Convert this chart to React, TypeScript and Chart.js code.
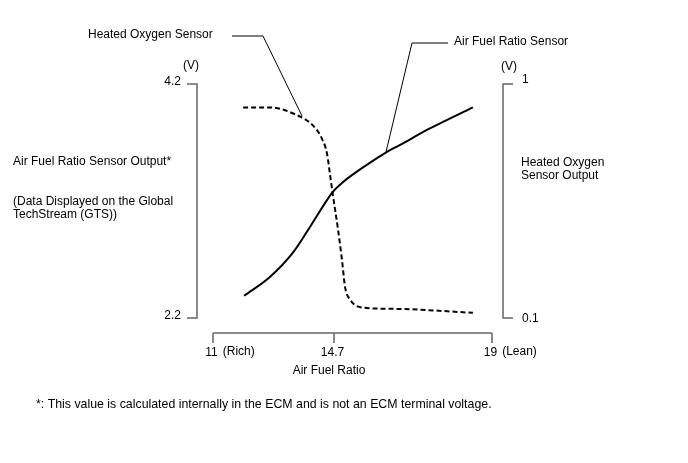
import React, { useEffect, useRef } from "react";
import { Chart, registerables, LinearScale } from "chart.js";

// Air fuel ratio (x) values of the air fuel ratio sensor curve
const afrSensorX = [11.95, 12.74, 13.45, 13.97, 14.49, 14.67, 14.94, 15.41, 16.09, 16.5, 17.31, 18.48];
// Air fuel ratio sensor output (V, left axis)
const afrSensorV = [2.39, 2.55, 2.76, 2.98, 3.21, 3.28, 3.36, 3.47, 3.61, 3.68, 3.82, 4.0];

// Air fuel ratio (x) values of the heated oxygen sensor curve
const ho2sX = [11.92, 12.74, 13.57, 14.06, 14.33, 14.49, 14.58, 14.67, 14.81, 14.92, 15.0, 15.14, 15.49, 16.41, 18.48];
// Heated oxygen sensor output (V, right axis)
const ho2sV = [0.91, 0.91, 0.88, 0.84, 0.79, 0.73, 0.65, 0.57, 0.44, 0.32, 0.22, 0.17, 0.14, 0.135, 0.12];

const xTicks = [11, 14.7, 19];
const xTickLabels = ["11", "14.7", "19"];
const xTickNotes = ["(Rich)", "", "(Lean)"];
const leftTicks = [2.2, 4.2];
const leftTickLabels = ["2.2", "4.2"];
const rightTicks = [0.1, 1];
const rightTickLabels = ["0.1", "1"];

// Schematic air-fuel-ratio axis: the stoichiometric tick sits a bit left of
// the linear midpoint, so the scale is piecewise linear between its ticks.
class AfrScale extends LinearScale {
  static id = "afrScale";
  getPixelForValue(value: any) {
    if (value === null || value === undefined || isNaN(value)) return NaN;
    const split = 0.4337;
    let f: number;
    if (value <= 14.7) f = ((value - 11) / 3.7) * split;
    else f = split + ((value - 14.7) / 4.3) * (1 - split);
    return (this as any).getPixelForDecimal(f);
  }
}

Chart.register(...registerables, AfrScale as any);

const FONT = "12px 'Liberation Sans', Arial, sans-serif";
const NOTE_FONT = "12.35px 'Liberation Sans', Arial, sans-serif";

const decorPlugin = {
  id: "decor",
  afterDraw(chart: any) {
    const { ctx, chartArea } = chart;
    const x = chart.scales.x;
    const y = chart.scales.y;
    const y2 = chart.scales.y2;
    ctx.save();

    // axis brackets
    ctx.strokeStyle = "#666";
    ctx.lineWidth = 1.5;
    const lx = chartArea.left - 16;
    const lTop = y.getPixelForValue(leftTicks[1]);
    const lBot = y.getPixelForValue(leftTicks[0]);
    ctx.beginPath();
    ctx.moveTo(lx - 10, lTop);
    ctx.lineTo(lx, lTop);
    ctx.lineTo(lx, lBot);
    ctx.lineTo(lx - 10, lBot);
    ctx.stroke();

    const rx = chartArea.right + 11;
    const rTop = y2.getPixelForValue(rightTicks[1]);
    const rBot = y2.getPixelForValue(rightTicks[0]);
    ctx.beginPath();
    ctx.moveTo(rx + 10, rTop);
    ctx.lineTo(rx, rTop);
    ctx.lineTo(rx, rBot);
    ctx.lineTo(rx + 10, rBot);
    ctx.stroke();

    const ax = chartArea.bottom + 15;
    const x0 = x.getPixelForValue(xTicks[0]);
    const x1 = x.getPixelForValue(xTicks[xTicks.length - 1]);
    ctx.beginPath();
    ctx.moveTo(x0, ax);
    ctx.lineTo(x1, ax);
    xTicks.forEach((t) => {
      const px = x.getPixelForValue(t);
      ctx.moveTo(px, ax);
      ctx.lineTo(px, ax + 10);
    });
    ctx.stroke();

    // leader lines
    ctx.strokeStyle = "#000";
    ctx.lineWidth = 1;
    ctx.beginPath();
    ctx.moveTo(232, 36);
    ctx.lineTo(263, 36);
    ctx.lineTo(302, 116);
    ctx.stroke();
    ctx.beginPath();
    ctx.moveTo(448, 43);
    ctx.lineTo(412, 43);
    ctx.lineTo(386, 152);
    ctx.stroke();

    // texts
    ctx.fillStyle = "#000";
    ctx.font = FONT;
    ctx.textBaseline = "alphabetic";
    ctx.textAlign = "left";
    ctx.fillText("Heated Oxygen Sensor", 88, 38);
    ctx.fillText("Air Fuel Ratio Sensor", 454, 45);
    ctx.fillText("(V)", 183, 69);
    ctx.fillText("(V)", 501, 70);
    ctx.fillText("Air Fuel Ratio Sensor Output*", 13, 165);
    ctx.fillText("(Data Displayed on the Global", 13, 205);
    ctx.fillText("TechStream (GTS))", 13, 218);
    ctx.fillText("Heated Oxygen", 521, 166);
    ctx.fillText("Sensor Output", 521, 179);
    ctx.font = NOTE_FONT;
    ctx.fillText("*: This value is calculated internally in the ECM and is not an ECM terminal voltage.", 36, 408);
    ctx.font = FONT;

    // left tick labels
    ctx.textAlign = "right";
    leftTicks.forEach((t, i) => {
      ctx.fillText(leftTickLabels[i], lx - 16, y.getPixelForValue(t) + 1);
    });
    // right tick labels
    ctx.textAlign = "left";
    rightTicks.forEach((t, i) => {
      ctx.fillText(rightTickLabels[i], rx + 19, y2.getPixelForValue(t) + (i === 0 ? 4 : -1));
    });
    // x tick labels
    xTicks.forEach((t, i) => {
      const px = x.getPixelForValue(t) - 1.5;
      ctx.textAlign = "center";
      ctx.fillText(xTickLabels[i], px, ax + 23);
      if (xTickNotes[i]) {
        const w = ctx.measureText(xTickLabels[i]).width;
        ctx.textAlign = "left";
        ctx.fillText(xTickNotes[i], px + w / 2 + 5, ax + 22);
      }
    });
    ctx.textAlign = "center";
    ctx.fillText("Air Fuel Ratio", x.getPixelForValue(14.7) - 5, ax + 41);

    ctx.restore();
  },
};

export default function App() {
  const ref = useRef<HTMLCanvasElement>(null);
  useEffect(() => {
    if (!ref.current) return;
    const chart = new Chart(ref.current, {
      type: "line",
      data: {
        datasets: [
          {
            label: "Air Fuel Ratio Sensor",
            data: afrSensorX.map((v, i) => ({ x: v, y: afrSensorV[i] })),
            yAxisID: "y",
            borderColor: "#000",
            borderWidth: 2,
            pointRadius: 0,
            cubicInterpolationMode: "monotone",
            fill: false,
          },
          {
            label: "Heated Oxygen Sensor",
            data: ho2sX.map((v, i) => ({ x: v, y: ho2sV[i] })),
            yAxisID: "y2",
            borderColor: "#000",
            borderWidth: 2,
            borderDash: [5, 3],
            pointRadius: 0,
            cubicInterpolationMode: "monotone",
            fill: false,
          },
        ],
      },
      options: {
        animation: false,
        responsive: false,
        layout: { padding: { left: 213, right: 196, top: 84, bottom: 145 } },
        plugins: { legend: { display: false }, tooltip: { enabled: false } },
        scales: {
          x: { type: "afrScale", min: 11, max: 19, display: false } as any,
          y: { type: "linear", min: 2.2, max: 4.2, display: false },
          y2: { type: "linear", min: 0.1, max: 1, display: false },
        },
      },
      plugins: [decorPlugin],
    });
    return () => chart.destroy();
  }, []);
  return (
    <div style={{ position: "fixed", left: 0, top: 0, width: 688, height: 463, background: "#fff" }}>
      <canvas ref={ref} width={688} height={463} style={{ display: "block" }} />
    </div>
  );
}
